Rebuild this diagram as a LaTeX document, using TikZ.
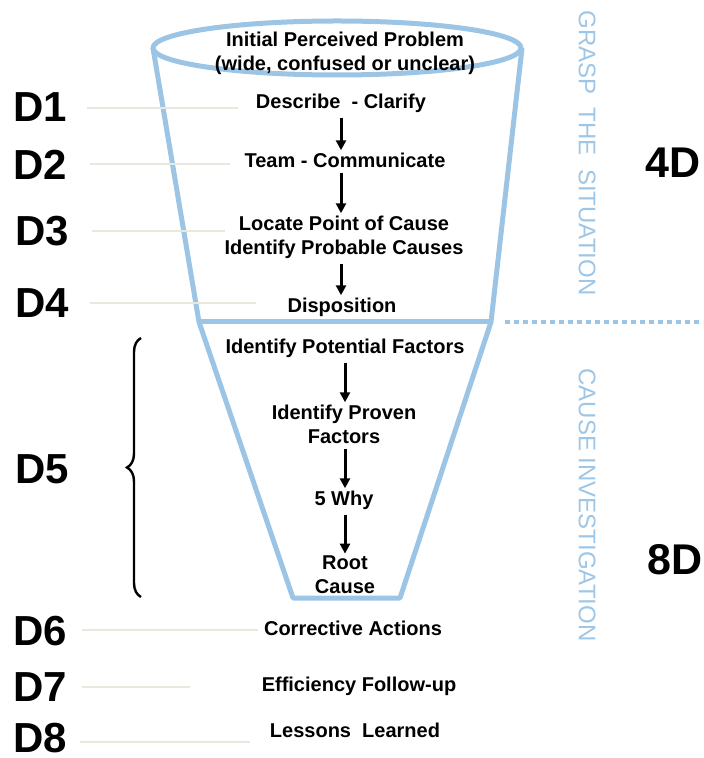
\documentclass[tikz,border=0pt]{standalone}
\usepackage{fontspec}
\setmainfont{Liberation Sans}
\usetikzlibrary{arrows.meta,decorations.pathreplacing}

\definecolor{funnelblue}{RGB}{155,196,229}
\definecolor{phaseblue}{RGB}{158,198,230}
\definecolor{guidegray}{RGB}{234,232,222}

\tikzset{
  stage/.style={font=\fontsize{10}{12}\selectfont\bfseries, align=center, inner sep=1pt},
  dlabel/.style={font=\fontsize{21}{21}\selectfont\bfseries, inner sep=0pt, anchor=west},
  dtotal/.style={font=\fontsize{21.5}{21.5}\selectfont\bfseries, inner sep=0pt},
  phase/.style={font=\fontsize{12}{12}\selectfont, text=phaseblue, rotate=-90, inner sep=0pt},
  guide/.style={draw=guidegray, line width=0.8pt},
  funnel/.style={draw=funnelblue, line width=2.5pt, line join=round},
  flowarrow/.style={line width=1.5pt, -{Triangle[length=5pt,width=5pt]}, shorten <=1.5pt},
}

\begin{document}
\begin{tikzpicture}[x=0.5pt, y=-0.5pt]
        \useasboundingbox (0,0) rectangle (703,758);

        % funnel
        \draw[funnel] (337,48) ellipse [x radius=184, y radius=27];
        \draw[funnel] (153,48) -- (199,322) -- (293,598) -- (400,598) -- (491,322) -- (522,48);
        \draw[funnel] (199,322) -- (491,322);
        \draw[funnelblue, line width=2pt, dash pattern=on 2.5pt off 2pt] (505,322) -- (703,322);

        % guide lines
        \draw[guide] (87,108) -- (238,108);
        \draw[guide] (90,164) -- (230,164);
        \draw[guide] (92,231) -- (225,231);
        \draw[guide] (90,303) -- (256,303);
        \draw[guide] (82,630) -- (258,630);
        \draw[guide] (82,687) -- (190,687);
        \draw[guide] (80,742) -- (250,742);

        % D labels
        \node[dlabel] (d1) at (13,107) {D1};
        \node[dlabel] (d2) at (13,165) {D2};
        \node[dlabel] (d3) at (15,231) {D3};
        \node[dlabel] (d4) at (15,303) {D4};
        \node[dlabel] (d5) at (15,469) {D5};
        \node[dlabel] (d6) at (13,631) {D6};
        \node[dlabel] (d7) at (13,687) {D7};
        \node[dlabel] (d8) at (13,738) {D8};
        \draw[line width=1.2pt, decorate, decoration={brace, amplitude=7pt}] (141,597) -- (141,338);

        % steps
        \node[stage] (problem) at (345,53) {Initial Perceived Problem\\(wide, confused or unclear)};
        \node[stage] (describe) at (341,103) {Describe\ \ - Clarify};
        \node[stage] (team) at (345,160) {Team - Communicate};
        \node[stage] (locate) at (344,237) {Locate Point of Cause\\Identify Probable Causes};
        \node[stage] (dispo) at (342,307) {Disposition};
        \node[stage] (potential) at (345,348) {Identify Potential Factors};
        \node[stage] (proven) at (344,424) {Identify Proven\\Factors};
        \node[stage] (why) at (344,500) {5 Why};
        \node[stage] (root) at (345,575) {Root\\Cause};
        \node[stage] (corrective) at (353,628) {Corrective Actions};
        \node[stage] (efficiency) at (359,686) {Efficiency Follow-up};
        \node[stage] (lessons) at (355,730) {Lessons\ \ Learned};

        \draw[flowarrow] (describe.south) -- (describe.south |- team.north);
        \draw[flowarrow] (describe.south |- team.south) -- (describe.south |- locate.north);
        \draw[flowarrow] (describe.south |- locate.south) -- (describe.south |- dispo.north);
        \draw[flowarrow] (potential.south) -- (potential.south |- proven.north);
        \draw[flowarrow] (potential.south |- proven.south) -- (potential.south |- why.north);
        \draw[flowarrow] (potential.south |- why.south) -- (potential.south |- root.north);

        % phases
        \node[phase] (grasp) at (587,153) {GRASP\ \ THE\ \ SITUATION};
        \node[phase] (cause) at (587,505) {CAUSE INVESTIGATION};
        \node[dtotal] (fourd) at (673,163) {4D};
        \node[dtotal] (eightd) at (675,560) {8D};
    \end{tikzpicture}
\end{document}
